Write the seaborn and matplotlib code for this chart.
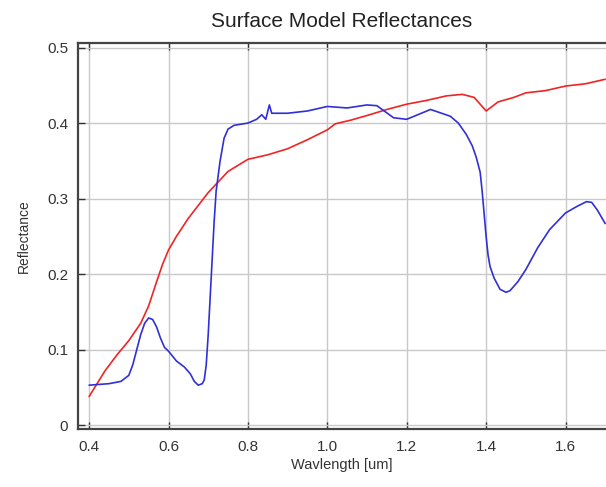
import numpy as np
import pandas as pd
import seaborn as sns
import matplotlib
matplotlib.use("Agg")
import matplotlib.pyplot as plt

# Values
red_wl = [0.40, 0.42, 0.44, 0.47, 0.50, 0.53, 0.55, 0.57, 0.585, 0.60, 0.62, 0.65, 0.70,
          0.75, 0.80, 0.85, 0.90, 0.95, 1.00, 1.02, 1.06, 1.10, 1.15, 1.20, 1.25, 1.30,
          1.34, 1.37, 1.39, 1.40, 1.41, 1.43, 1.47, 1.50, 1.55, 1.60, 1.65, 1.70]
red_refl = [0.038, 0.055, 0.072, 0.093, 0.112, 0.135, 0.158, 0.190, 0.213, 0.232, 0.250, 0.274, 0.308,
            0.336, 0.352, 0.358, 0.366, 0.378, 0.391, 0.399, 0.404, 0.410, 0.418, 0.425, 0.430, 0.436,
            0.438, 0.434, 0.422, 0.416, 0.420, 0.428, 0.434, 0.440, 0.443, 0.449, 0.452, 0.458]

blue_wl = [0.40, 0.45, 0.48, 0.50, 0.51, 0.52, 0.53, 0.54, 0.55, 0.56, 0.57, 0.58,
           0.59, 0.60, 0.62, 0.64, 0.655, 0.665, 0.675, 0.685, 0.69, 0.695, 0.70, 0.705,
           0.71, 0.715, 0.72, 0.73, 0.74, 0.75, 0.765, 0.80, 0.822, 0.835, 0.845, 0.854,
           0.86, 0.90, 0.95, 1.00, 1.05, 1.10, 1.125, 1.167, 1.20, 1.26, 1.31, 1.33,
           1.35, 1.365, 1.375, 1.385, 1.39, 1.395, 1.40, 1.405, 1.41, 1.42, 1.435, 1.45,
           1.46, 1.48, 1.50, 1.53, 1.56, 1.60, 1.63, 1.653, 1.666, 1.68, 1.70]
blue_refl = [0.053, 0.055, 0.058, 0.066, 0.080, 0.100, 0.120, 0.135, 0.142, 0.140, 0.130, 0.115,
             0.103, 0.098, 0.085, 0.077, 0.068, 0.058, 0.053, 0.055, 0.060, 0.080, 0.120, 0.170,
             0.220, 0.270, 0.310, 0.350, 0.380, 0.392, 0.397, 0.400, 0.405, 0.411, 0.405, 0.424,
             0.413, 0.413, 0.416, 0.422, 0.420, 0.424, 0.423, 0.407, 0.405, 0.418, 0.409, 0.400,
             0.385, 0.370, 0.355, 0.335, 0.310, 0.280, 0.250, 0.225, 0.210, 0.195, 0.180, 0.176,
             0.178, 0.190, 0.206, 0.235, 0.259, 0.281, 0.290, 0.296, 0.295, 0.285, 0.267]

x_ticks = [0.4, 0.6, 0.8, 1.0, 1.2, 1.4, 1.6]
x_labels = ["0.4", "0.6", "0.8", "1.0", "1.2", "1.4", "1.6"]
y_ticks = [0, 0.1, 0.2, 0.3, 0.4, 0.5]
y_labels = ["0", "0.1", "0.2", "0.3", "0.4", "0.5"]

sns.set_style("whitegrid")
plt.rcParams['font.family'] = ['Liberation Sans', 'DejaVu Sans']

fig = plt.figure(figsize=(6.06, 4.87), dpi=100)
ax = fig.add_axes([0.1287, 0.1191, 0.8713, 0.7926])

sns.lineplot(x=red_wl, y=red_refl, color='#f02424', linewidth=1.2, ax=ax)
sns.lineplot(x=blue_wl, y=blue_refl, color='#3030d8', linewidth=1.2, ax=ax)

ax.set_xlim(0.372, 1.702)
ax.set_ylim(-0.005, 0.506)
ax.set_xticks(x_ticks)
ax.set_xticklabels(x_labels)
ax.set_yticks(y_ticks)
ax.set_yticklabels(y_labels)

ax.grid(True, color='#c8c8c8', linewidth=1.0)
for side in ['left', 'bottom', 'top']:
    ax.spines[side].set_visible(True)
    ax.spines[side].set_color('#444444')
    ax.spines[side].set_linewidth(1.6)
ax.spines['right'].set_visible(False)
ax.tick_params(axis='both', direction='in', length=5, width=1, color='#333333',
               labelsize=11, labelcolor='#333333', top=True, bottom=True, left=True)
ax.tick_params(axis='x', pad=8)
ax.tick_params(axis='y', pad=7)

ax.set_title("Surface Model Reflectances", fontsize=15, color='#222222', y=1.02, pad=6)
ax.set_xlabel("Wavlength [um]", fontsize=10.5, color='#333333', labelpad=3)
ax.set_ylabel("Reflectance", fontsize=10, color='#333333', labelpad=12)

fig.savefig("out.png", dpi=100)
